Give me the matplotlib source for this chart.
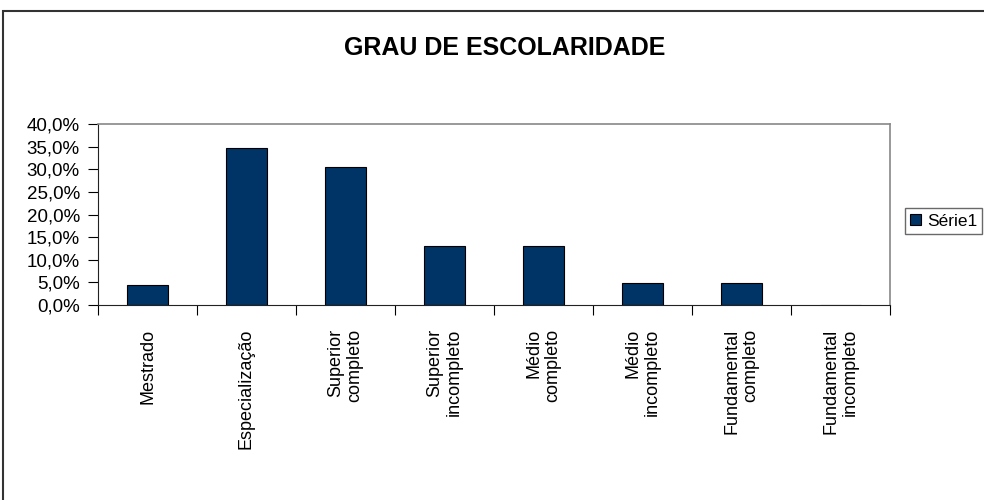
import matplotlib
matplotlib.use("Agg")
import matplotlib.pyplot as plt
from matplotlib.patches import Rectangle
import numpy as np

plt.rcParams["font.family"] = ["Liberation Sans", "DejaVu Sans"]

categories = [
    "Mestrado",
    "Especialização",
    "Superior\ncompleto",
    "Superior\nincompleto",
    "Médio\ncompleto",
    "Médio\nincompleto",
    "Fundamental\ncompleto",
    "Fundamental\nincompleto",
]
values = [4.4, 34.8, 30.4, 13.0, 13.0, 4.8, 4.8, 0.0]
yticks = [0, 5, 10, 15, 20, 25, 30, 35, 40]
ytick_labels = [f"{v:.1f}%".replace(".", ",") for v in yticks]
series_name = "Série1"
title = "GRAU DE ESCOLARIDADE"

BAR_COLOR = "#003366"

fig = plt.figure(figsize=(9.84, 5.0), dpi=100)
ax = fig.add_axes([98 / 984, 1 - 305 / 500, (890 - 98) / 984, (305 - 124) / 500])

x = np.arange(len(categories)) + 0.5
bars = ax.bar(x, values, width=0.42, color=BAR_COLOR, edgecolor="black",
              linewidth=0.8, label=series_name)

ax.set_xlim(0, len(categories))
ax.set_ylim(0, 40)
ax.set_yticks(yticks)
ax.set_yticklabels(ytick_labels, fontsize=13.5)
ax.tick_params(axis="y", direction="out", length=7, width=0.8, pad=6, colors="black")

ax.set_xticks(x)
ax.set_xticklabels(categories, rotation=90, fontsize=13, va="top", ha="center",
                   multialignment="right", linespacing=1.15)
ax.tick_params(axis="x", which="major", length=0, pad=17)
ax.set_xticks(np.arange(len(categories) + 1), minor=True)
ax.tick_params(axis="x", which="minor", direction="out", length=7, width=0.8)

for side in ["left", "bottom"]:
    ax.spines[side].set_color("#222222")
    ax.spines[side].set_linewidth(0.8)
for side in ["top", "right"]:
    ax.spines[side].set_color("#888888")
    ax.spines[side].set_linewidth(1.2)

fig.text(505 / 984, 1 - 48 / 500, title, ha="center", va="center",
         fontsize=18, fontweight="bold",
         family=["Liberation Sans Narrow", "Liberation Sans"])

leg = fig.legend(handles=[bars], labels=[series_name], loc="center left",
                 bbox_to_anchor=(905 / 984, 1 - 221 / 500), fontsize=12.5,
                 handlelength=0.65, handleheight=0.65, handletextpad=0.3,
                 borderpad=0.3, borderaxespad=0, fancybox=False)
leg.get_frame().set_edgecolor("#444444")
leg.get_frame().set_linewidth(1.0)

# outer chart border (clipped on the right and bottom like the original)
fig.patches.append(Rectangle((3 / 984, -0.1), 1.1, 1 - 11 / 500 + 0.1,
                             transform=fig.transFigure, fill=False,
                             edgecolor="#333333", linewidth=1.5))

fig.savefig("out.png", dpi=100)
